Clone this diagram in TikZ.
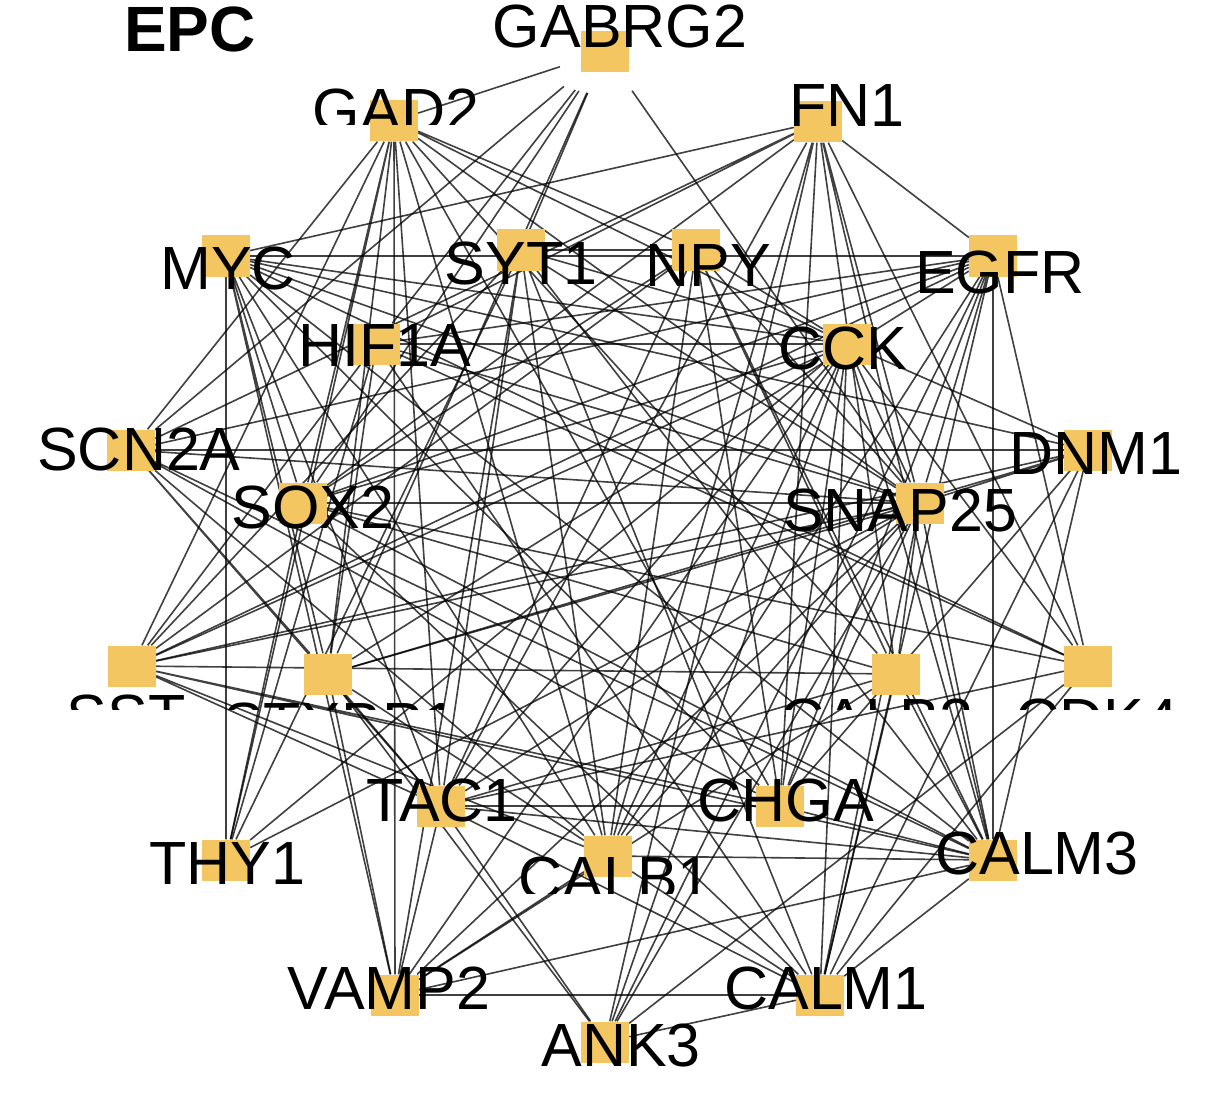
\documentclass[tikz,border=0pt]{standalone}
\usepackage{fontspec}
\setmainfont{Liberation Sans}
\usepackage{xcolor}
\usetikzlibrary{backgrounds}
\definecolor{genefill}{RGB}{243,198,98}
\newcommand{\genefont}{\fontsize{61}{61}\selectfont}
\tikzstyle{gene} = [rectangle, fill=genefill, minimum width=48, minimum height=41, inner sep=0]
\tikzstyle{genetext} = [anchor=base, inner sep=0, font=\genefont]
\tikzstyle{link} = [draw=black, draw opacity=0.75, line width=1.6]
\tikzstyle{hub} = [link, shorten <=22]

\begin{document}
\begin{tikzpicture}[x=1pt, y=-1pt]
    \useasboundingbox (0,0) rectangle (1205,1094);

    % outer ring
    \node (gabrg2) [gene] at (605,52) {};
    \node (gad2) [gene] at (394,121) {};
    \node (fn1) [gene] at (818,122) {};
    \node (myc) [gene] at (226,256) {};
    \node (egfr) [gene] at (993,256) {};
    \node (scn2a) [gene] at (131,450) {};
    \node (dnm1) [gene] at (1088,450) {};
    \node (sst) [gene] at (132,666) {};
    \node (cdk4) [gene] at (1088,666) {};
    \node (thy1) [gene] at (226,860) {};
    \node (calm3) [gene] at (993,860) {};
    \node (vamp2) [gene] at (395,995) {};
    \node (calm1) [gene] at (820,995) {};
    \node (ank3) [gene] at (605,1042) {};

    % inner ring
    \node (syt1) [gene] at (521,250) {};
    \node (npy) [gene] at (696,250) {};
    \node (hif1a) [gene] at (376,344) {};
    \node (cck) [gene] at (847,344) {};
    \node (sox2) [gene] at (303,503) {};
    \node (snap25) [gene] at (920,503) {};
    \node (stxbp1) [gene] at (328,674) {};
    \node (calb2) [gene] at (896,674) {};
    \node (tac1) [gene] at (441,806) {};
    \node (chga) [gene] at (780,806) {};
    \node (calb1) [gene] at (608,856) {};

    \begin{pgfonlayer}{background}
    \draw [hub] (gabrg2) -- (gad2);
    \draw [hub] (gabrg2) -- (scn2a);
    \draw [hub] (gabrg2) -- (syt1);
    \draw [hub] (gabrg2) -- (sox2);
    \draw [hub] (gabrg2) -- (stxbp1);
    \draw [hub] (gabrg2) -- (snap25);
    \draw [hub] (gabrg2) -- (hif1a);

    \draw [link] (gad2) -- (scn2a) (gad2) -- (sox2) (gad2) -- (stxbp1) (gad2) -- (vamp2) (gad2) -- (tac1) (gad2) -- (calb1) (gad2) -- (chga) (gad2) -- (calb2) (gad2) -- (snap25) (gad2) -- (cck) (gad2) -- (npy) (gad2) -- (thy1) (gad2) -- (sst);
    \draw [link] (fn1) -- (myc) (fn1) -- (scn2a) (fn1) -- (hif1a) (fn1) -- (sox2) (fn1) -- (tac1) (fn1) -- (calb1) (fn1) -- (ank3) (fn1) -- (chga) (fn1) -- (calb2) (fn1) -- (snap25) (fn1) -- (cdk4) (fn1) -- (egfr) (fn1) -- (calm3);
    \draw [link] (myc) -- (egfr) (myc) -- (thy1) (myc) -- (cck) (myc) -- (dnm1) (myc) -- (sox2) (myc) -- (stxbp1) (myc) -- (tac1) (myc) -- (calb1) (myc) -- (chga) (myc) -- (calm3) (myc) -- (cdk4) (myc) -- (vamp2) (myc) -- (snap25);
    \draw [link] (syt1) -- (npy) (syt1) -- (thy1) (syt1) -- (sst) (syt1) -- (tac1) (syt1) -- (vamp2) (syt1) -- (calb1) (syt1) -- (calm1) (syt1) -- (cck) (syt1) -- (snap25) (syt1) -- (calm3);
    \draw [link] (npy) -- (sst) (npy) -- (sox2) (npy) -- (calb1) (npy) -- (chga) (npy) -- (calb2) (npy) -- (calm3) (npy) -- (snap25) (npy) -- (cck) (npy) -- (tac1);
    \draw [link] (hif1a) -- (cck) (hif1a) -- (sst) (hif1a) -- (stxbp1) (hif1a) -- (cdk4) (hif1a) -- (thy1) (hif1a) -- (egfr) (hif1a) -- (calm1) (hif1a) -- (snap25);
    \draw [link] (cck) -- (dnm1) (cck) -- (thy1) (cck) -- (sst) (cck) -- (sox2) (cck) -- (chga) (cck) -- (calb1) (cck) -- (ank3) (cck) -- (calm1) (cck) -- (calm3) (cck) -- (cdk4) (cck) -- (vamp2) (cck) -- (tac1) (cck) -- (snap25);
    \draw [link] (egfr) -- (sox2) (egfr) -- (stxbp1) (egfr) -- (snap25) (egfr) -- (chga) (egfr) -- (calb1) (egfr) -- (calm1) (egfr) -- (calm3) (egfr) -- (cdk4) (egfr) -- (scn2a) (egfr) -- (sst) (egfr) -- (ank3);
    \draw [link] (scn2a) -- (dnm1) (scn2a) -- (snap25) (scn2a) -- (stxbp1) (scn2a) -- (tac1) (scn2a) -- (calb1) (scn2a) -- (chga) (scn2a) -- (calm3);
    \draw [link] (dnm1) -- (snap25) (dnm1) -- (stxbp1) (dnm1) -- (sst) (dnm1) -- (chga) (dnm1) -- (calm3) (dnm1) -- (calm1);
    \draw [link] (sox2) -- (cdk4) (sox2) -- (thy1) (sox2) -- (calb2) (sox2) -- (calm1) (sox2) -- (snap25) (sox2) -- (calm3);
    \draw [link] (snap25) -- (stxbp1) (snap25) -- (sst) (snap25) -- (thy1) (snap25) -- (tac1) (snap25) -- (calb1) (snap25) -- (calm1) (snap25) -- (calm3) (snap25) -- (ank3) (snap25) -- (vamp2) (snap25) -- (calb2) (snap25) -- (chga);
    \draw [link] (sst) -- (calb2) (sst) -- (tac1) (sst) -- (calb1) (sst) -- (calm3) (sst) -- (chga);
    \draw [link] (stxbp1) -- (vamp2) (stxbp1) -- (tac1) (stxbp1) -- (calb1) (stxbp1) -- (ank3);
    \draw [link] (calb2) -- (calm3) (calb2) -- (tac1) (calb2) -- (calm1) (calb2) -- (vamp2);
    \draw [link] (cdk4) -- (calm1) (cdk4) -- (ank3) (cdk4) -- (tac1);
    \draw [link] (tac1) -- (chga) (tac1) -- (calm3) (tac1) -- (ank3) (tac1) -- (calm1) (tac1) -- (vamp2);
    \draw [link] (chga) -- (calm3) (calb1) -- (calm3) (calb1) -- (calm1) (calb1) -- (vamp2);
    \draw [link] (vamp2) -- (calm1) (vamp2) -- (calm3) (ank3) -- (calm1) (calm1) -- (calm3);
    \end{pgfonlayer}

    % labels
    \node (title) [anchor=base, inner sep=0, font=\fontsize{64}{64}\selectfont\bfseries] at (190,52) {EPC};
    \node (gabrg2text) [genetext] at (620,48) {GABRG2};
    \node (fn1text) [genetext] at (847,127) {FN1};
    \node (myctext) [genetext] at (228,290) {MYC};
    \node (syt1text) [genetext] at (521,284) {SYT1};
    \node (npytext) [genetext] at (708,287) {NPY};
    \node (egfrtext) [genetext] at (1000,294) {EGFR};
    \node (hif1atext) [genetext] at (385,366) {HIF1A};
    \node (ccktext) [genetext] at (843,369) {CCK};
    \node (scn2atext) [genetext] at (139,470) {SCN2A};
    \node (dnm1text) [genetext] at (1096,474) {DNM1};
    \node (sox2text) [genetext] at (313,528) {SOX2};
    \node (snap25text) [genetext] at (900,531) {SNAP25};
    \node (tac1text) [genetext] at (442,821) {TAC1};
    \node (chgatext) [genetext] at (786,821) {CHGA};
    \node (thy1text) [genetext] at (227,884) {THY1};
    \node (calm3text) [genetext] at (1037,874) {CALM3};
    \node (vamp2text) [genetext] at (389,1009) {VAMP2};
    \node (calm1text) [genetext] at (826,1009) {CALM1};
    \node (ank3text) [genetext] at (621,1066) {ANK3};

    \begin{scope}
    \clip (300,60) rectangle (500,125);
    \node (gad2text) [genetext] at (396,132) {GAD2};
    \end{scope}
    \begin{scope}
    \clip (0,680) rectangle (1205,709);
    \node (ssttext) [genetext] at (126,737) {SST};
    \node (stxbp1text) [genetext] at (340,745) {STXBP1};
    \node (calb2text) [genetext] at (877,741) {CALB2};
    \node (cdk4text) [genetext] at (1097,741) {CDK4};
    \end{scope}
    \begin{scope}
    \clip (500,840) rectangle (720,893);
    \node (calb1text) [genetext] at (615,899) {CALB1};
    \end{scope}
\end{tikzpicture}
\end{document}
